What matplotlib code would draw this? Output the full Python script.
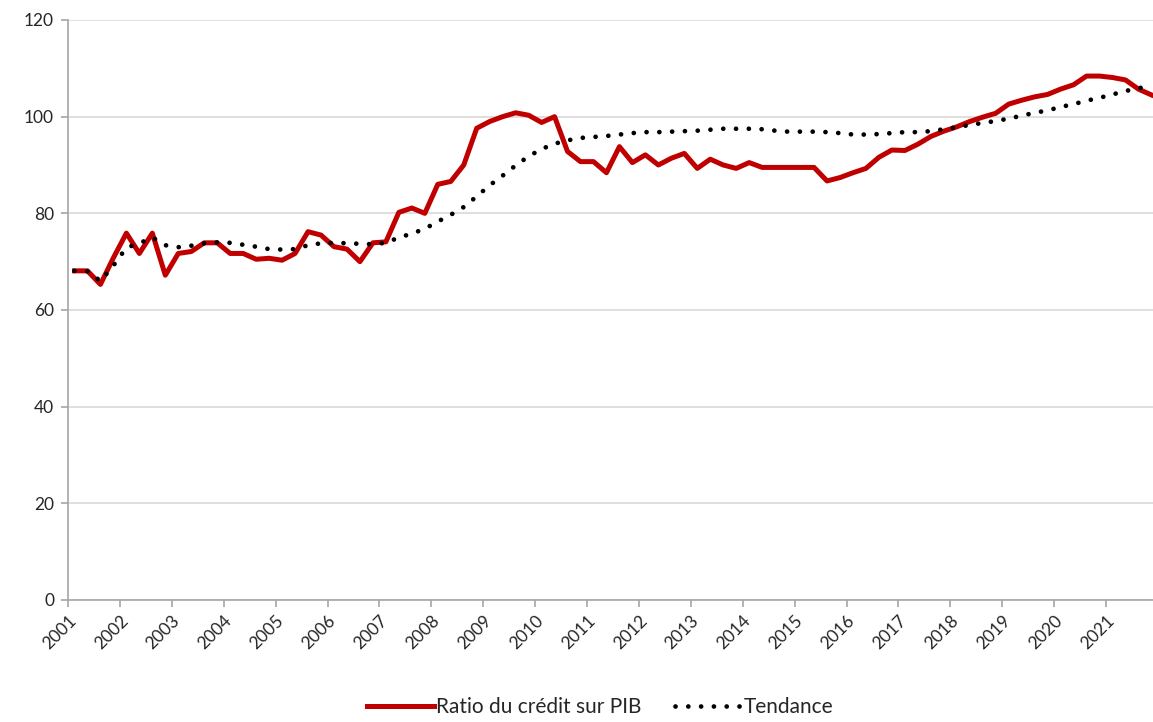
import numpy as np
import matplotlib
matplotlib.use('Agg')
import matplotlib.pyplot as plt

# quarterly data 2001Q1 - 2021Q4
years = list(range(2001, 2022))
ratio = [68.1, 68.1, 65.3, 70.8, 75.9, 71.7, 75.9, 67.2, 71.7, 72.1,
         73.9, 73.9, 71.7, 71.7, 70.5, 70.7, 70.3, 71.7, 76.2, 75.5,
         73.1, 72.6, 70.0, 73.9, 74.1, 80.2, 81.1, 80.0, 86.0, 86.6,
         90.0, 97.6, 99.0, 100.0, 100.8, 100.3, 98.8, 100.0, 92.8, 90.7,
         90.7, 88.4, 93.8, 90.5, 92.1, 90.0, 91.4, 92.4, 89.3, 91.2,
         90.0, 89.3, 90.5, 89.5, 89.5, 89.5, 89.5, 89.5, 86.7, 87.4,
         88.4, 89.3, 91.6, 93.1, 93.0, 94.3, 95.9, 97.0, 97.9, 99.0,
         99.9, 100.7, 102.6, 103.4, 104.1, 104.6, 105.7, 106.6, 108.4, 108.4,
         108.1, 107.6, 105.7, 104.5]
trend = [68.1, 68.0, 66.0, 69.2, 72.9, 73.8, 75.0, 73.4, 73.0, 73.3,
         73.8, 74.0, 73.9, 73.5, 73.1, 72.6, 72.5, 72.6, 73.4, 73.8,
         73.9, 73.8, 73.7, 73.6, 73.9, 75.0, 75.8, 76.8, 78.3, 79.7,
         81.3, 83.5, 85.8, 87.8, 89.9, 91.8, 93.3, 94.4, 95.1, 95.6,
         95.8, 96.0, 96.3, 96.6, 96.8, 96.8, 96.9, 97.0, 97.1, 97.3,
         97.5, 97.5, 97.5, 97.4, 97.1, 96.9, 96.9, 96.9, 96.8, 96.6,
         96.3, 96.3, 96.4, 96.6, 96.8, 96.8, 97.0, 97.4, 97.8, 98.3,
         98.7, 99.1, 99.6, 100.2, 100.8, 101.3, 102.0, 102.6, 103.3, 103.9,
         104.6, 105.3, 105.9, 106.3]
yticks = [0, 20, 40, 60, 80, 100, 120]

plt.rcParams['font.family'] = ['Lato', 'DejaVu Sans']
RedCol = '#C00000'
GridCol = '#d9d9d9'
AxCol = '#a6a6a6'
TxtCol = '#262626'

fig = plt.figure(figsize=(11.53, 7.22), dpi=100)
ax = fig.add_axes([68/1153, 1 - 600/722, 1 - 68/1153, 580/722])

xq = np.arange(len(ratio)) + 0.5
ax.plot(xq, ratio, color=RedCol, linewidth=3.6, label='Ratio du crédit sur PIB',
        solid_joinstyle='round', zorder=3)
ax.plot(xq, trend, color='black', linewidth=3.4, linestyle=(0, (0.01, 2.7)),
        dash_capstyle='round', label='Tendance', zorder=4)

ax.set_xlim(0, (1153 - 68) / 12.975)
ax.set_ylim(0, 120)
ax.set_yticks(yticks)
ax.set_xticks(np.arange(len(years)) * 4)
ax.set_xticklabels([str(y) for y in years], rotation=45, ha='right',
                   rotation_mode='anchor')
ax.grid(axis='y', color=GridCol, linewidth=1.2, zorder=0)
ax.set_axisbelow(True)

for s in ['top', 'right']:
    ax.spines[s].set_visible(False)
ax.spines['left'].set_color(AxCol)
ax.spines['bottom'].set_color(AxCol)
ax.spines['left'].set_linewidth(1.2)
ax.spines['bottom'].set_linewidth(1.2)
ax.tick_params(axis='both', colors=AxCol, labelcolor=TxtCol, labelsize=12.5,
               length=5, width=1.2)
ax.tick_params(axis='x', pad=4)
ax.tick_params(axis='y', pad=5)

leg = fig.legend(loc='center', bbox_to_anchor=(600/1153, 1 - 707/722), ncol=2,
                 frameon=False, fontsize=15, handlelength=3.2, handletextpad=0.1,
                 columnspacing=1.6)
for t in leg.get_texts():
    t.set_color(TxtCol)

plt.savefig('out.png', dpi=100)
